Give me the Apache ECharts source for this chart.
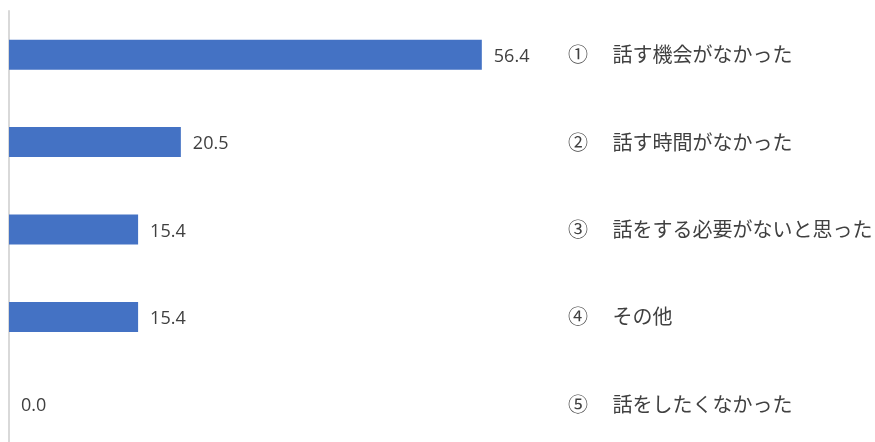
<!DOCTYPE html>
<html>
<head>
<meta charset="utf-8">
<script src="https://cdn.jsdelivr.net/npm/echarts@6/dist/echarts.min.js"></script>
<style>
  html, body { margin: 0; padding: 0; background: #fff; }
  #chart { width: 875px; height: 442px; }
</style>
</head>
<body>
<div id="chart"></div>
<script>
// Reasons for not talking (percent of respondents)
const categories = [
  '①\u3000 話す機会がなかった',
  '②\u3000 話す時間がなかった',
  '③\u3000 話をする必要がないと思った',
  '④\u3000 その他',
  '⑤\u3000 話をしたくなかった'
];
const values = [56.4, 20.5, 15.4, 15.4, 0.0];

const chart = echarts.init(document.getElementById('chart'));
chart.setOption({
  animation: false,
  backgroundColor: '#ffffff',
  grid: {
    left: 9, right: 363, top: 11, height: 437,
    containLabel: false,
    outerBoundsMode: 'none'
  },
  xAxis: {
    type: 'value',
    min: 0,
    max: 60,
    show: false
  },
  yAxis: [
    {
      type: 'category',
      inverse: true,
      data: categories,
      position: 'left',
      axisLine: { show: true, lineStyle: { color: '#d9d9d9', width: 2 } },
      axisTick: { show: false },
      axisLabel: { show: false },
      splitLine: { show: false }
    },
    {
      type: 'category',
      inverse: true,
      data: categories,
      position: 'right',
      axisLine: { show: false },
      axisTick: { show: false },
      splitLine: { show: false },
      axisLabel: {
        show: true,
        align: 'left',
        margin: 56,
        color: '#404040',
        fontSize: 20,
        padding: [4, 0, 0, 0],
        fontFamily: '"Noto Sans CJK JP", sans-serif'
      }
    }
  ],
  series: [
    {
      type: 'bar',
      yAxisIndex: 0,
      data: values,
      barWidth: 30,
      itemStyle: { color: '#4472c4' },
      label: {
        show: true,
        position: 'right',
        distance: 12,
        offset: [0, 2],
        color: '#404040',
        fontSize: 18,
        fontFamily: '"Open Sans", sans-serif',
        formatter: (p) => p.value.toFixed(1)
      }
    }
  ]
});
</script>
</body>
</html>
